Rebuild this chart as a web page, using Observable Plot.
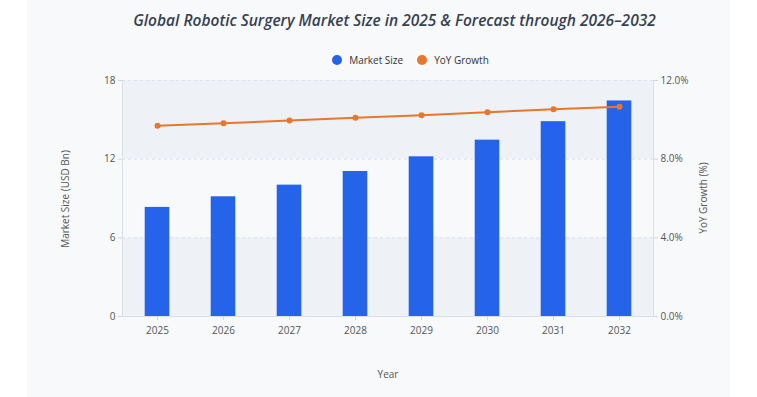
<!DOCTYPE html>
<html>
<head>
<meta charset="utf-8">
<script src="https://cdn.jsdelivr.net/npm/d3@7"></script>
<script src="https://cdn.jsdelivr.net/npm/@observablehq/plot@0.6"></script>
<style>
  html, body { margin: 0; padding: 0; background: #ffffff; }
  #wrap { position: relative; width: 757px; height: 397px; overflow: hidden; font-family: "Open Sans", sans-serif; }
  #card { position: absolute; left: 27px; top: 0; width: 703px; height: 397px; background: #f8f9fb; }
  #title { position: absolute; left: 0; width: 757px; top: 9px; text-align: center; font-size: 15.5px; font-style: italic; font-weight: 600; color: #374151; margin-left: 16px; }
  #legend { position: absolute; left: 0; width: 757px; top: 53px; display: flex; justify-content: center; gap: 14px; font-size: 10px; color: #333; margin-left: 32px; }
  .item { display: flex; align-items: center; gap: 7px; }
  .dot { width: 10px; height: 10px; border-radius: 50%; display: inline-block; }
  #chart { position: absolute; left: 0; top: 0; }
  .atitle { position: absolute; font-size: 10px; color: #555; white-space: nowrap; transform: translate(-50%, -50%); }
  .rot { transform: translate(-50%, -50%) rotate(-90deg); }
</style>
</head>
<body>
<div id="wrap">
  <div id="card"></div>
  <div id="chart"></div>
  <div id="title"></div>
  <div id="legend"></div>
  <div id="ylab" class="atitle rot" style="left:65px; top:199px;"></div>
  <div id="y2lab" class="atitle rot" style="left:703px; top:198px;"></div>
  <div id="xlab" class="atitle" style="left:388px; top:374px;"></div>
</div>
<script>
const titleText = "Global Robotic Surgery Market Size in 2025 & Forecast through 2026–2032";
const years = ["2025", "2026", "2027", "2028", "2029", "2030", "2031", "2032"];
const marketSize = [8.32, 9.13, 10.02, 11.06, 12.18, 13.45, 14.86, 16.44];
const yoyGrowth = [9.7, 9.83, 9.96, 10.11, 10.23, 10.39, 10.54, 10.67];
const leftTicks = [0, 6, 12, 18];
const seriesNames = ["Market Size", "YoY Growth"];
const seriesColors = ["#2563eb", "#e8762d"];
const axisTitles = { y: "Market Size (USD Bn)", y2: "YoY Growth (%)", x: "Year" };
const bands = [[0, 6], [12, 18]];

const ratio = 18 / 12;
const data = years.map((y, i) => ({ year: y, size: marketSize[i], yoy: yoyGrowth[i] }));
const bandData = bands.map(([a, b]) => ({ a, b }));

document.getElementById("title").textContent = titleText;
document.getElementById("ylab").textContent = axisTitles.y;
document.getElementById("y2lab").textContent = axisTitles.y2;
document.getElementById("xlab").textContent = axisTitles.x;
const legend = document.getElementById("legend");
seriesNames.forEach((n, i) => {
  const it = document.createElement("div");
  it.className = "item";
  const d = document.createElement("span");
  d.className = "dot";
  d.style.background = seriesColors[i];
  const t = document.createElement("span");
  t.textContent = n;
  it.appendChild(d); it.appendChild(t);
  legend.appendChild(it);
});

const chart = Plot.plot({
  width: 757,
  height: 397,
  marginTop: 80,
  marginBottom: 81,
  marginLeft: 122,
  marginRight: 104,
  style: { background: "transparent", fontFamily: "Open Sans, sans-serif", fontSize: "10px", color: "#555" },
  x: { type: "band", domain: years, padding: 0 },
  y: { domain: [0, 18] },
  marks: [
    Plot.rect(bandData, { y1: "a", y2: "b", fill: "#eef1f5" }),
    Plot.ruleY([6, 12, 18], { stroke: "#dde2ea", strokeDasharray: "3,3" }),
    Plot.frame({ anchor: "left", stroke: "#d9dfe9" }),
    Plot.frame({ anchor: "right", stroke: "#d9dfe9" }),
    Plot.ruleY([0], { stroke: "#d9dfe9" }),
    Plot.barY(data, { x: "year", y: "size", fill: seriesColors[0], insetLeft: 20.7, insetRight: 20.7 }),
    Plot.line(data, { x: "year", y: d => d.yoy * ratio, stroke: seriesColors[1], strokeWidth: 2 }),
    Plot.dot(data, { x: "year", y: d => d.yoy * ratio, fill: seriesColors[1], r: 3 }),
    Plot.axisY(leftTicks, { anchor: "left", tickSize: 4, tickPadding: 3, stroke: "#cfd6e0", label: null, fill: "#555" }),
    Plot.axisY(leftTicks, { anchor: "right", tickSize: 4, tickPadding: 3, stroke: "#cfd6e0", tickFormat: d => (d / ratio).toFixed(1) + "%", label: null, fill: "#555" }),
    Plot.axisX({ tickSize: 4, tickPadding: 6, stroke: "#cfd6e0", label: null, fill: "#555" })
  ]
});
document.getElementById("chart").appendChild(chart);
</script>
</body>
</html>
